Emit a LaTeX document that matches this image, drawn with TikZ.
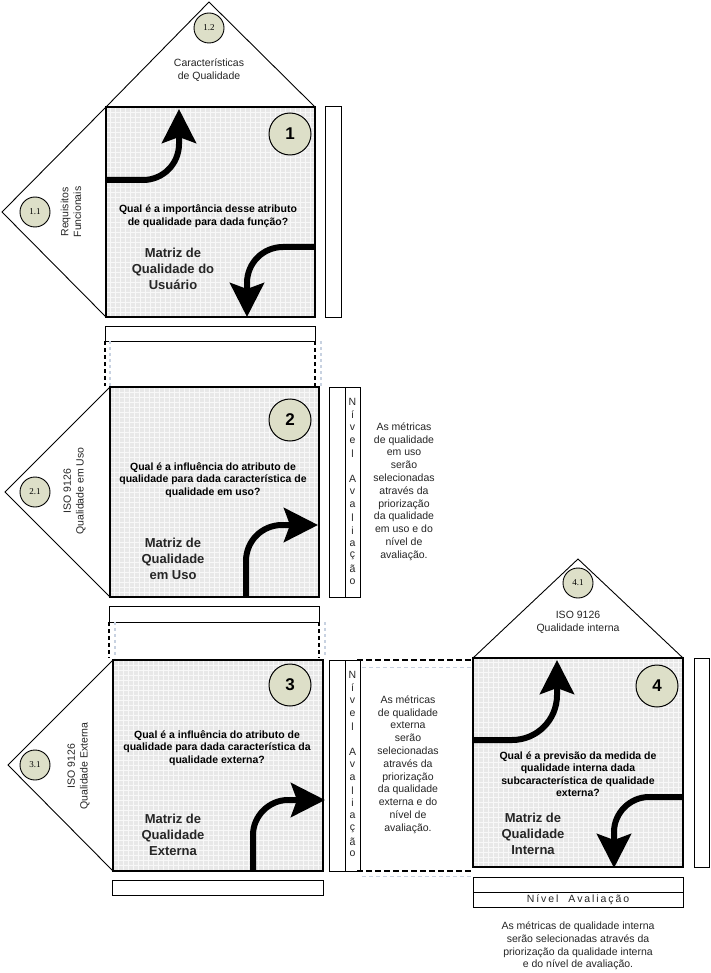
\documentclass[tikz,border=0pt]{standalone}
\usepackage{fontspec}
\setmainfont{Liberation Sans}
\newfontfamily\serifnum{Liberation Serif}
\usetikzlibrary{arrows.meta}
\definecolor{circfill}{RGB}{221,223,200}
\definecolor{matfill}{RGB}{232,232,232}
\definecolor{gridline}{RGB}{248,248,248}
\definecolor{lightdot}{RGB}{200,210,225}
\tikzset{
 matsq/.style 2 args={draw=black, line width=1.2pt, fill=matfill, minimum width=#1pt, minimum height=#2pt, anchor=north west, inner sep=0pt, outer sep=0pt,
   path picture={\draw[gridline, line width=0.6pt, step=5pt] (path picture bounding box.south west) grid (path picture bounding box.north east);}},
 barbox/.style 2 args={draw=black, line width=1pt, fill=white, minimum width=#1pt, minimum height=#2pt, anchor=north west, inner sep=0pt, outer sep=0pt},
 tri/.style={draw=black, line width=0.9pt, fill=white, line join=miter},
 bigcirc/.style={circle, draw=black, line width=1pt, fill=circfill, minimum size=42pt, inner sep=0pt, font=\fontsize{17}{17}\selectfont\bfseries},
 smallcirc/.style={circle, draw=black, line width=0.9pt, fill=circfill, minimum size=30pt, inner sep=0pt, font=\serifnum\fontsize{9}{9}\selectfont},
 lbl/.style={font=\fontsize{10.5}{12.8}\selectfont, align=center, inner sep=0pt, text=black!85},
 question/.style={font=\fontsize{10.5}{12.4}\selectfont\bfseries, align=center, inner sep=0pt},
 mtitle/.style={font=\fontsize{13}{16}\selectfont\bfseries, align=center, inner sep=0pt, text=black!85},
 bigarrow/.style={line width=6pt, -{Stealth[length=34pt,width=34pt,inset=6pt]}},
 dotblack/.style={line width=2.6pt, dash pattern=on 4pt off 3pt},
 dotlight/.style={line width=1.2pt, draw=lightdot, dash pattern=on 3pt off 3pt},
 dashblack/.style={line width=2pt, dash pattern=on 6pt off 3pt},
 dashlight/.style={line width=1pt, draw=lightdot, dash pattern=on 4pt off 3pt},
 vletter/.style={font=\fontsize{10.5}{12}\selectfont, inner sep=0pt, text=black!85},
}
\newcommand\lsk{\kern1.9pt}
\begin{document}
\begin{tikzpicture}[x=1pt,y=-1pt]
\useasboundingbox[fill=white] (0,0) rectangle (711,973);

% ---------- Matrix 1 ----------
\coordinate (r1apex) at (209,2);
\coordinate (l1apex) at (2,212);
\draw[tri] (106,107) -- (r1apex) -- (315,107);
\draw[tri] (106,107) -- (l1apex) -- (106,317);
\node[matsq={209}{210}] (m1) at (106,107) {};
\draw[line width=2.6pt] (m1.north west) -- (m1.south west);
\node[barbox={16}{210}] (m1r) at (325,107) {};
\node[barbox={210}{15}] (m1b) at (105,326) {};
\node[smallcirc] (c12) at (209,28) {1.2};
\node[smallcirc] (c11) at (35,212) {1.1};
\node[bigcirc] (c1) at (290,134) {1};
\node[lbl] (t12) at (209,70) {Características\\de Qualidade};
\node[lbl, rotate=90] (t11) at (71,212) {Requisitos\\Funcionais};
\node[question] (q1) at (208,216) {Qual é a importância desse atributo\\de qualidade para dada função?};
\node[mtitle] (n1) at (173,269) {Matriz de\\Qualidade do\\Usuário};
\draw[bigarrow] (m1.west |- 0,180) -- (143,180) .. controls (163,180) and (179,164) .. (179,144) -- (179,109);
\draw[bigarrow] (m1.east |- 0,247) -- (283,247) .. controls (263,247) and (247,263) .. (247,283) -- (247,317);

% dotted links 1-2
\draw[dotblack] (m1b.south west) -- (m1b.south west |- 0,386);
\draw[dotblack] (m1b.south east) -- (m1b.south east |- 0,386);
\draw[dotlight] ([xshift=5pt]m1b.south west) -- ([xshift=5pt]m1b.south west |- 0,386);
\draw[dotlight] ([xshift=6pt]m1b.south east) -- ([xshift=6pt]m1b.south east |- 0,386);

% ---------- Matrix 2 ----------
\coordinate (l2apex) at (5,492);
\draw[tri] (110,387) -- (l2apex) -- (110,597);
\node[matsq={209}{210}] (m2) at (110,387) {};
\draw[line width=2.6pt] (m2.north west) -- (m2.south west);
\node[barbox={16}{210}] (m2r1) at (329,387) {};
\node[barbox={15}{210}] (m2r2) at (345,387) {};
\node[barbox={210}{16}] (m2b) at (109,606) {};
\node[smallcirc] (c21) at (35,492) {2.1};
\node[bigcirc] (c2) at (290,420) {2};
\node[lbl, rotate=90] (t21) at (74.5,491) {ISO 9126\\Qualidade em Uso};
\node[question] (q2) at (213,480) {Qual é a influência do atributo de\\qualidade para dada característica de\\qualidade em uso?};
\node[mtitle] (n2) at (173,559) {Matriz de\\Qualidade\\em Uso};
\draw[bigarrow] (246,597) -- (246,561) .. controls (246,541) and (262,525) .. (282,525) -- (318,525);
\foreach \ch [count=\i from 0] in {N,í,v,e,l,{},A,v,a,l,i,a,ç,ã,o}
  \node[vletter] (v2-\i) at (352.5,402+12.85*\i) {\ch};
\node[lbl] (s2) at (404,491.5) {As métricas\\de qualidade\\em uso\\serão\\selecionadas\\através da\\priorização\\da qualidade\\em uso e do\\nível de\\avaliação.};

% dotted links 2-3
\draw[dotblack] (m2b.south west) -- (m2b.south west |- 0,658);
\draw[dotblack] (m2b.south east) -- (m2b.south east |- 0,658);
\draw[dotlight] ([xshift=6pt]m2b.south west) -- ([xshift=6pt]m2b.south west |- 0,658);
\draw[dotlight] ([xshift=6pt]m2b.south east) -- ([xshift=6pt]m2b.south east |- 0,658);

% ---------- Matrix 3 ----------
\coordinate (l3apex) at (8,765);
\draw[tri] (113,660) -- (l3apex) -- (113,871);
\node[matsq={210}{211}] (m3) at (113,660) {};
\draw[line width=2.6pt] (m3.north west) -- (m3.south west);
\node[barbox={16}{211}] (m3r1) at (329,660) {};
\node[barbox={15}{211}] (m3r2) at (345,660) {};
\node[barbox={211}{15}] (m3b) at (112,880) {};
\node[smallcirc] (c31) at (35,765) {3.1};
\node[bigcirc] (c3) at (290,685) {3};
\node[lbl, rotate=90] (t31) at (78.5,766) {ISO 9126\\Qualidade Externa};
\node[question] (q3) at (217,748) {Qual é a influência do atributo de\\qualidade para dada característica da\\qualidade externa?};
\node[mtitle] (n3) at (173,835) {Matriz de\\Qualidade\\Externa};
\draw[bigarrow] (253,871) -- (253,835) .. controls (253,816) and (269,800) .. (288,800) -- (325,800);
\foreach \ch [count=\i from 0] in {N,í,v,e,l,{},A,v,a,l,i,a,ç,ã,o}
  \node[vletter] (v3-\i) at (352.5,675+12.8*\i) {\ch};
\node[lbl] (s3) at (408,764.5) {As métricas\\de qualidade\\externa\\serão\\selecionadas\\através da\\priorização\\da qualidade\\externa e do\\nível de\\avaliação.};

% ---------- Matrix 4 ----------
\coordinate (r4apex) at (578,559);
\draw[tri] (473,658) -- (r4apex) -- (683,658);
\node[matsq={210}{209}] (m4) at (473,658) {};
\draw[line width=2pt] (m4.north west) -- (m4.north east);
\node[barbox={15}{209}] (m4r) at (694,658) {};
\node[barbox={210}{15}] (m4b1) at (473,877) {};
\node[barbox={210}{15}, font=\fontsize{10.5}{12}\selectfont, text=black!85] (m4b2) at (473,892) {N\lsk í\lsk v\lsk e\lsk l\hspace{10pt}A\lsk v\lsk a\lsk l\lsk i\lsk a\lsk ç\lsk ã\lsk o};
\node[smallcirc] (c41) at (578,583) {4.1};
\node[bigcirc] (c4) at (657,686) {4};
\node[lbl] (t41) at (578,622) {ISO 9126\\Qualidade interna};
\node[question] (q4) at (578,774) {Qual é a previsão da medida de\\qualidade interna dada\\subcaracterística de qualidade\\externa?};
\node[mtitle] (n4) at (533,834) {Matriz de\\Qualidade\\Interna};
\draw[bigarrow] (m4.west |- 0,740) -- (512,740) .. controls (537,740) and (557,720) .. (557,695) -- (557,660);
\draw[bigarrow] (m4.east |- 0,797) -- (649,797) .. controls (630,797) and (614,813) .. (614,832) -- (614,868);
\node[lbl] (s4) at (578,946) {As métricas de qualidade interna\\serão selecionadas através da\\priorização da qualidade interna\\e do nível de avaliação.};

% dashed links 3-4
\draw[dashblack] ([xshift=-3pt]m3r2.north east) -- (m3r2.north east -| m4.west);
\draw[dashblack] ([xshift=-3pt]m3r2.south east) -- (m3r2.south east -| m4.west);
\draw[dashlight] ([xshift=2pt,yshift=-7pt]m3r2.north east) -- ([yshift=-7pt]m3r2.north east -| m4.west);
\draw[dashlight] ([xshift=2pt,yshift=-5pt]m3r2.south east) -- ([yshift=-5pt]m3r2.south east -| m4.west);
\end{tikzpicture}
\end{document}
